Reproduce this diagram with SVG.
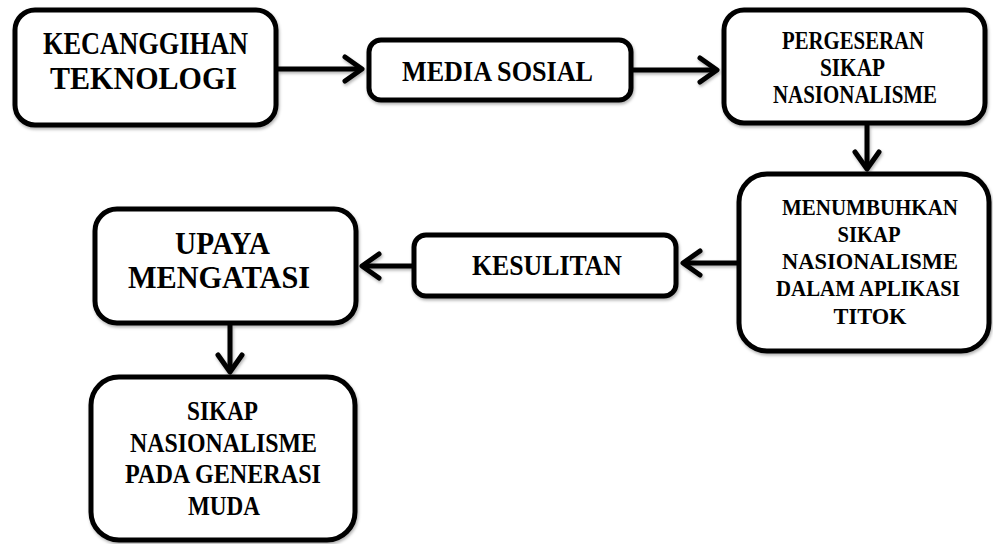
<svg xmlns="http://www.w3.org/2000/svg" width="993" height="544" viewBox="0 0 993 544">
<defs>
<style>
.box{fill:#fff;stroke:#000;stroke-width:5;filter:url(#sh)}
.t{font-family:"Liberation Serif","Times New Roman",serif;font-weight:bold;fill:#000;text-anchor:middle}
.c{fill:none;stroke:#000;stroke-width:5;marker-end:url(#ah);filter:url(#shu)}
</style>
<filter id="sh" x="-10%" y="-10%" width="120%" height="130%">
<feDropShadow dx="1" dy="2" stdDeviation="1.5" flood-color="#000" flood-opacity="0.3"/>
</filter>
<filter id="shu" filterUnits="userSpaceOnUse" x="0" y="0" width="993" height="544">
<feDropShadow dx="1" dy="2" stdDeviation="1.5" flood-color="#000" flood-opacity="0.3"/>
</filter>
<marker id="ah" markerUnits="userSpaceOnUse" viewBox="-24 -16 28 32" markerWidth="28" markerHeight="32" refX="0" refY="0" orient="auto">
<path d="M-17,-12 L0,0 L-17,12" fill="none" stroke="#000" stroke-width="5" stroke-linecap="round" stroke-linejoin="round"/>
</marker>
</defs>
<rect width="993" height="544" fill="#fff"/>
<g id="connectors">
<line class="c" x1="278" y1="69" x2="362" y2="69"/>
<line class="c" x1="633" y1="70" x2="717" y2="70"/>
<line class="c" x1="867" y1="125" x2="867" y2="169"/>
<line class="c" x1="737" y1="263" x2="683" y2="263"/>
<line class="c" x1="412" y1="266" x2="362" y2="266"/>
<line class="c" x1="230" y1="325" x2="230" y2="372"/>
</g>
<g id="n1">
<rect class="box" x="15" y="10" width="261" height="115" rx="20"/>
<text class="t" font-size="32"><tspan x="145.5" y="54" textLength="205" lengthAdjust="spacingAndGlyphs">KECANGGIHAN</tspan><tspan x="143.5" y="89" textLength="187" lengthAdjust="spacingAndGlyphs">TEKNOLOGI</tspan></text>
</g>
<g id="n2">
<rect class="box" x="369" y="40" width="262" height="60" rx="12"/>
<text class="t" font-size="30" x="497.5" y="81" textLength="191" lengthAdjust="spacingAndGlyphs">MEDIA SOSIAL</text>
</g>
<g id="n3">
<rect class="box" x="724" y="10" width="261" height="113" rx="20"/>
<text class="t" font-size="26"><tspan x="853" y="49" textLength="142" lengthAdjust="spacingAndGlyphs">PERGESERAN</tspan><tspan x="852.5" y="76" textLength="65" lengthAdjust="spacingAndGlyphs">SIKAP</tspan><tspan x="855" y="103" textLength="164" lengthAdjust="spacingAndGlyphs">NASIONALISME</tspan></text>
</g>
<g id="n4">
<rect class="box" x="739" y="174" width="250" height="177" rx="28"/>
<text class="t" font-size="24"><tspan x="870" y="215" textLength="176" lengthAdjust="spacingAndGlyphs">MENUMBUHKAN</tspan><tspan x="869" y="242" textLength="63" lengthAdjust="spacingAndGlyphs">SIKAP</tspan><tspan x="870" y="269" textLength="176" lengthAdjust="spacingAndGlyphs">NASIONALISME</tspan><tspan x="868" y="296" textLength="184" lengthAdjust="spacingAndGlyphs">DALAM APLIKASI</tspan><tspan x="870" y="324" textLength="73" lengthAdjust="spacingAndGlyphs">TITOK</tspan></text>
</g>
<g id="n5">
<rect class="box" x="414" y="235" width="262" height="61" rx="12"/>
<text class="t" font-size="29" x="547" y="275" textLength="150" lengthAdjust="spacingAndGlyphs">KESULITAN</text>
</g>
<g id="n6">
<rect class="box" x="95" y="209" width="261" height="114" rx="22"/>
<text class="t" font-size="32"><tspan x="222.5" y="254" textLength="95" lengthAdjust="spacingAndGlyphs">UPAYA</tspan><tspan x="219" y="288" textLength="182" lengthAdjust="spacingAndGlyphs">MENGATASI</tspan></text>
</g>
<g id="n7">
<rect class="box" x="91" y="377" width="264" height="163" rx="28"/>
<text class="t" font-size="28"><tspan x="222.5" y="420" textLength="71" lengthAdjust="spacingAndGlyphs">SIKAP</tspan><tspan x="223.5" y="452" textLength="187" lengthAdjust="spacingAndGlyphs">NASIONALISME</tspan><tspan x="223" y="483" textLength="196" lengthAdjust="spacingAndGlyphs">PADA GENERASI</tspan><tspan x="224" y="515" textLength="72" lengthAdjust="spacingAndGlyphs">MUDA</tspan></text>
</g>
</svg>
